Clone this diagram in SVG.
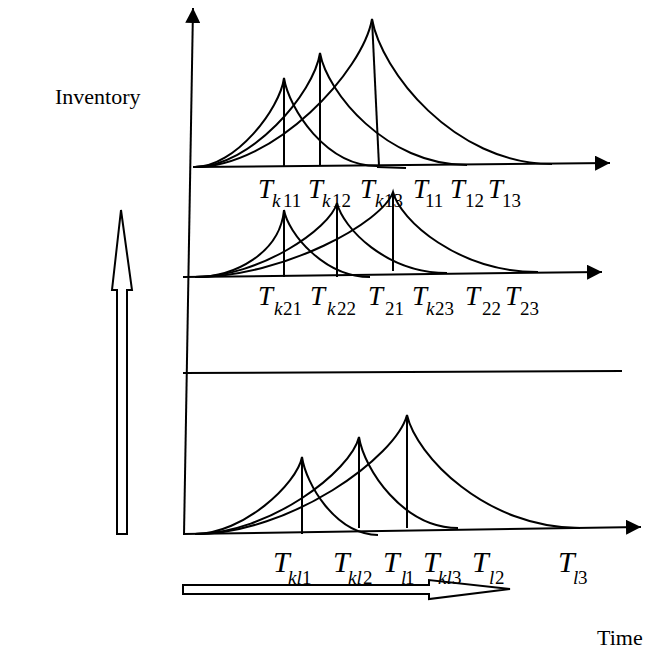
<svg xmlns="http://www.w3.org/2000/svg" width="662" height="651" viewBox="0 0 662 651">
<style>
.ln{fill:none;stroke:#000;stroke-width:2}
.hol{fill:#fff;stroke:#000;stroke-width:2;stroke-linejoin:miter}
.T{font-family:"Liberation Serif","Times New Roman",serif;font-style:italic;font-size:27px}
.Tb{font-family:"Liberation Serif","Times New Roman",serif;font-style:italic;font-size:30px}
.s{font-family:"Liberation Serif","Times New Roman",serif;font-size:19px}
.si{font-style:italic}
.lbl{font-family:"Liberation Serif","Times New Roman",serif;font-size:22px}
</style>
<defs>
<marker id="ah" viewBox="0 0 15 15" refX="15" refY="7.5" markerWidth="15" markerHeight="15" markerUnits="userSpaceOnUse" orient="auto">
<path d="M0,0 L15,7.5 L0,15 Z" fill="#000"/>
</marker>
</defs>
<rect width="662" height="651" fill="#fff"/>

<g id="connectors">
<line class="ln" x1="184" y1="535" x2="193" y2="8" marker-end="url(#ah)"/>
<line class="ln" x1="193" y1="167" x2="610" y2="163" marker-end="url(#ah)"/>
<line class="ln" x1="183" y1="277" x2="602" y2="272" marker-end="url(#ah)"/>
<line class="ln" x1="183" y1="373" x2="622" y2="371"/>
<line class="ln" x1="183" y1="534" x2="641" y2="527" marker-end="url(#ah)"/>
</g>

<g id="top-group">
<path class="ln" d="M195,167 C235,167 280,109 284,78 C289,109 326,166 377,166"/>
<path class="ln" d="M195,167 C251,167 314,93 320,53 C327,92 386,165 467,165"/>
<path class="ln" d="M195,167 C275,167 363,71 372,19 C381,70 453,164 552,164"/>
<line class="ln" x1="284" y1="78" x2="284" y2="166"/>
<line class="ln" x1="320" y1="53" x2="320" y2="166"/>
<line class="ln" x1="372" y1="19" x2="379" y2="166"/>
<line class="ln" x1="377" y1="167" x2="406" y2="168"/>
</g>

<g id="middle-group">
<path class="ln" d="M195,277 C235,277 280,253 284,210 C288,233 324,277 370,277"/>
<path class="ln" d="M195,277 C259,277 330,229 337,203 C343,228 386,273 447,273"/>
<path class="ln" d="M195,277 C284,277 383,222 393,192 C400,220 458,272 538,272"/>
<line class="ln" x1="284" y1="210" x2="284" y2="277"/>
<line class="ln" x1="337" y1="203" x2="337" y2="277"/>
<line class="ln" x1="393" y1="192" x2="393" y2="271"/>
</g>

<g id="bottom-group">
<path class="ln" d="M195,534 C243,534 297,484 302,457 C306,484 335,534 378,535"/>
<path class="ln" d="M195,534 C269,534 351,471 359,437 C364,469 403,528 458,528"/>
<path class="ln" d="M195,534 C290,534 396,457 407,415 C416,455 485,528 580,528"/>
<line class="ln" x1="302" y1="457" x2="302" y2="534"/>
<line class="ln" x1="359" y1="437" x2="359" y2="528"/>
<line class="ln" x1="407" y1="415" x2="407" y2="528"/>
</g>

<g id="inventory-arrow">
<polygon class="hol" points="117,534 127,534 127,290 132,290 121,210 112,290 117,290"/>
</g>
<g id="time-arrow">
<polygon class="hol" points="183,585 429,585 429,580 510,589 429,599 429,594 183,594"/>
</g>

<g id="labels-top">
<text class="T" x="258" y="198">T</text><text class="s" y="207"><tspan class="si" x="272">k</tspan><tspan x="283">11</tspan></text>
<text class="T" x="308" y="198">T</text><text class="s" y="207"><tspan class="si" x="322">k</tspan><tspan x="332">12</tspan></text>
<text class="T" x="360" y="198">T</text><text class="s" y="207"><tspan class="si" x="375">k</tspan><tspan x="384">13</tspan></text>
<text class="T" x="413" y="198">T</text><text class="s" x="425" y="207">11</text>
<text class="T" x="450" y="198">T</text><text class="s" x="465" y="207">12</text>
<text class="T" x="488" y="198">T</text><text class="s" x="502" y="207">13</text>
</g>

<g id="labels-middle">
<text class="T" x="258" y="305">T</text><text class="s" y="315"><tspan class="si" x="274">k</tspan><tspan x="283">21</tspan></text>
<text class="T" x="310" y="305">T</text><text class="s" y="315"><tspan class="si" x="327">k</tspan><tspan x="337">22</tspan></text>
<text class="T" x="368" y="305">T</text><text class="s" x="385" y="315">21</text>
<text class="T" x="412" y="305">T</text><text class="s" y="315"><tspan class="si" x="426">k</tspan><tspan x="435">23</tspan></text>
<text class="T" x="465" y="305">T</text><text class="s" x="482" y="315">22</text>
<text class="T" x="505" y="305">T</text><text class="s" x="520" y="315">23</text>
</g>

<g id="labels-bottom">
<text class="Tb" x="273" y="572">T</text><text class="s" y="584"><tspan class="si" x="288">kl</tspan><tspan x="302">1</tspan></text>
<text class="Tb" x="333" y="572">T</text><text class="s" y="584"><tspan class="si" x="348">kl</tspan><tspan x="363">2</tspan></text>
<text class="Tb" x="383" y="572">T</text><text class="s" y="584"><tspan class="si" x="401">l</tspan><tspan x="405">1</tspan></text>
<text class="Tb" x="423" y="572">T</text><text class="s" y="584"><tspan class="si" x="438">kl</tspan><tspan x="452">3</tspan></text>
<text class="Tb" x="472" y="572">T</text><text class="s" y="584"><tspan class="si" x="489">l</tspan><tspan x="495">2</tspan></text>
<text class="Tb" x="558" y="572">T</text><text class="s" y="584"><tspan class="si" x="573">l</tspan><tspan x="578">3</tspan></text>
</g>

<g id="axis-titles">
<text class="lbl" x="55" y="104">Inventory</text>
<text class="lbl" x="597" y="645">Time</text>
</g>
</svg>
